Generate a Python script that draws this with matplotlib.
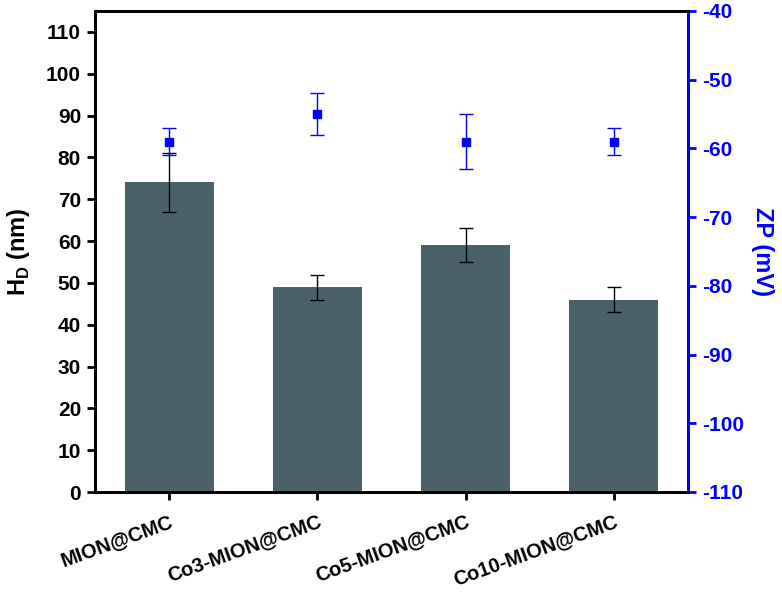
import matplotlib
matplotlib.use("Agg")
import matplotlib.pyplot as plt
import numpy as np

plt.rcParams['font.family'] = ['Liberation Sans', 'DejaVu Sans']
plt.rcParams['font.weight'] = 'bold'
plt.rcParams['axes.unicode_minus'] = False
plt.rcParams['mathtext.fontset'] = 'custom'
plt.rcParams['mathtext.bf'] = 'Liberation Sans:bold'
plt.rcParams['mathtext.rm'] = 'Liberation Sans:bold'

samples = ['MION@CMC', 'Co3-MION@CMC', 'Co5-MION@CMC', 'Co10-MION@CMC']
hd = [74, 49, 59, 46]
hd_err = [7, 3, 4, 3]
zp = [-59, -55, -59, -59]
zp_err = [2, 3, 4, 2]

bar_color = '#4b6169'
blue = '#0000ff'


def main():
    fig = plt.figure(figsize=(7.82, 5.92), dpi=100)
    ax = fig.add_axes([95 / 782, 100 / 592, 593 / 782, 481 / 592])
    x = np.arange(len(samples))

    ax.bar(x, hd, width=0.6, color=bar_color, zorder=2)
    ax.errorbar(x, hd, yerr=hd_err, fmt='none', ecolor='black',
                elinewidth=1, capsize=5, capthick=1, zorder=3)
    ax.set_xlim(-0.5, 3.5)
    ax.set_ylim(0, 115)
    ax.set_yticks(np.arange(0, 111, 10))
    ax.set_xticks(x)
    ax.set_xticklabels(samples, rotation=20, ha='right', rotation_mode='anchor',
                       fontsize=14.5, fontweight='bold')
    ax.tick_params(axis='both', direction='out', length=6, width=2)
    ax.tick_params(axis='y', labelsize=15, pad=4)
    ax.tick_params(axis='x', pad=8)
    for lab in ax.get_yticklabels():
        lab.set_fontweight('bold')
    for s in ax.spines.values():
        s.set_linewidth(2)
    ax.set_ylabel(r'H$_\mathrm{D}$ (nm)', fontsize=17, fontweight='bold', labelpad=10)

    ax2 = ax.twinx()
    ax2.errorbar(x, zp, yerr=zp_err, fmt='s', color=blue, ecolor=blue,
                 markersize=6, elinewidth=1, capsize=5, capthick=1, zorder=4)
    ax2.set_ylim(-110, -40)
    ax2.set_yticks(np.arange(-110, -39, 10))
    ax2.tick_params(axis='y', direction='out', length=6, width=2,
                    colors=blue, labelsize=15, pad=4)
    for lab in ax2.get_yticklabels():
        lab.set_fontweight('bold')
    for s in ax2.spines.values():
        s.set_linewidth(2)
    ax2.spines['right'].set_color(blue)
    ax2.set_ylabel('ZP (mV)', fontsize=17, fontweight='bold', color=blue,
                   rotation=270, labelpad=22)

    fig.savefig('out.png', dpi=100)


if __name__ == "__main__":
    main()
